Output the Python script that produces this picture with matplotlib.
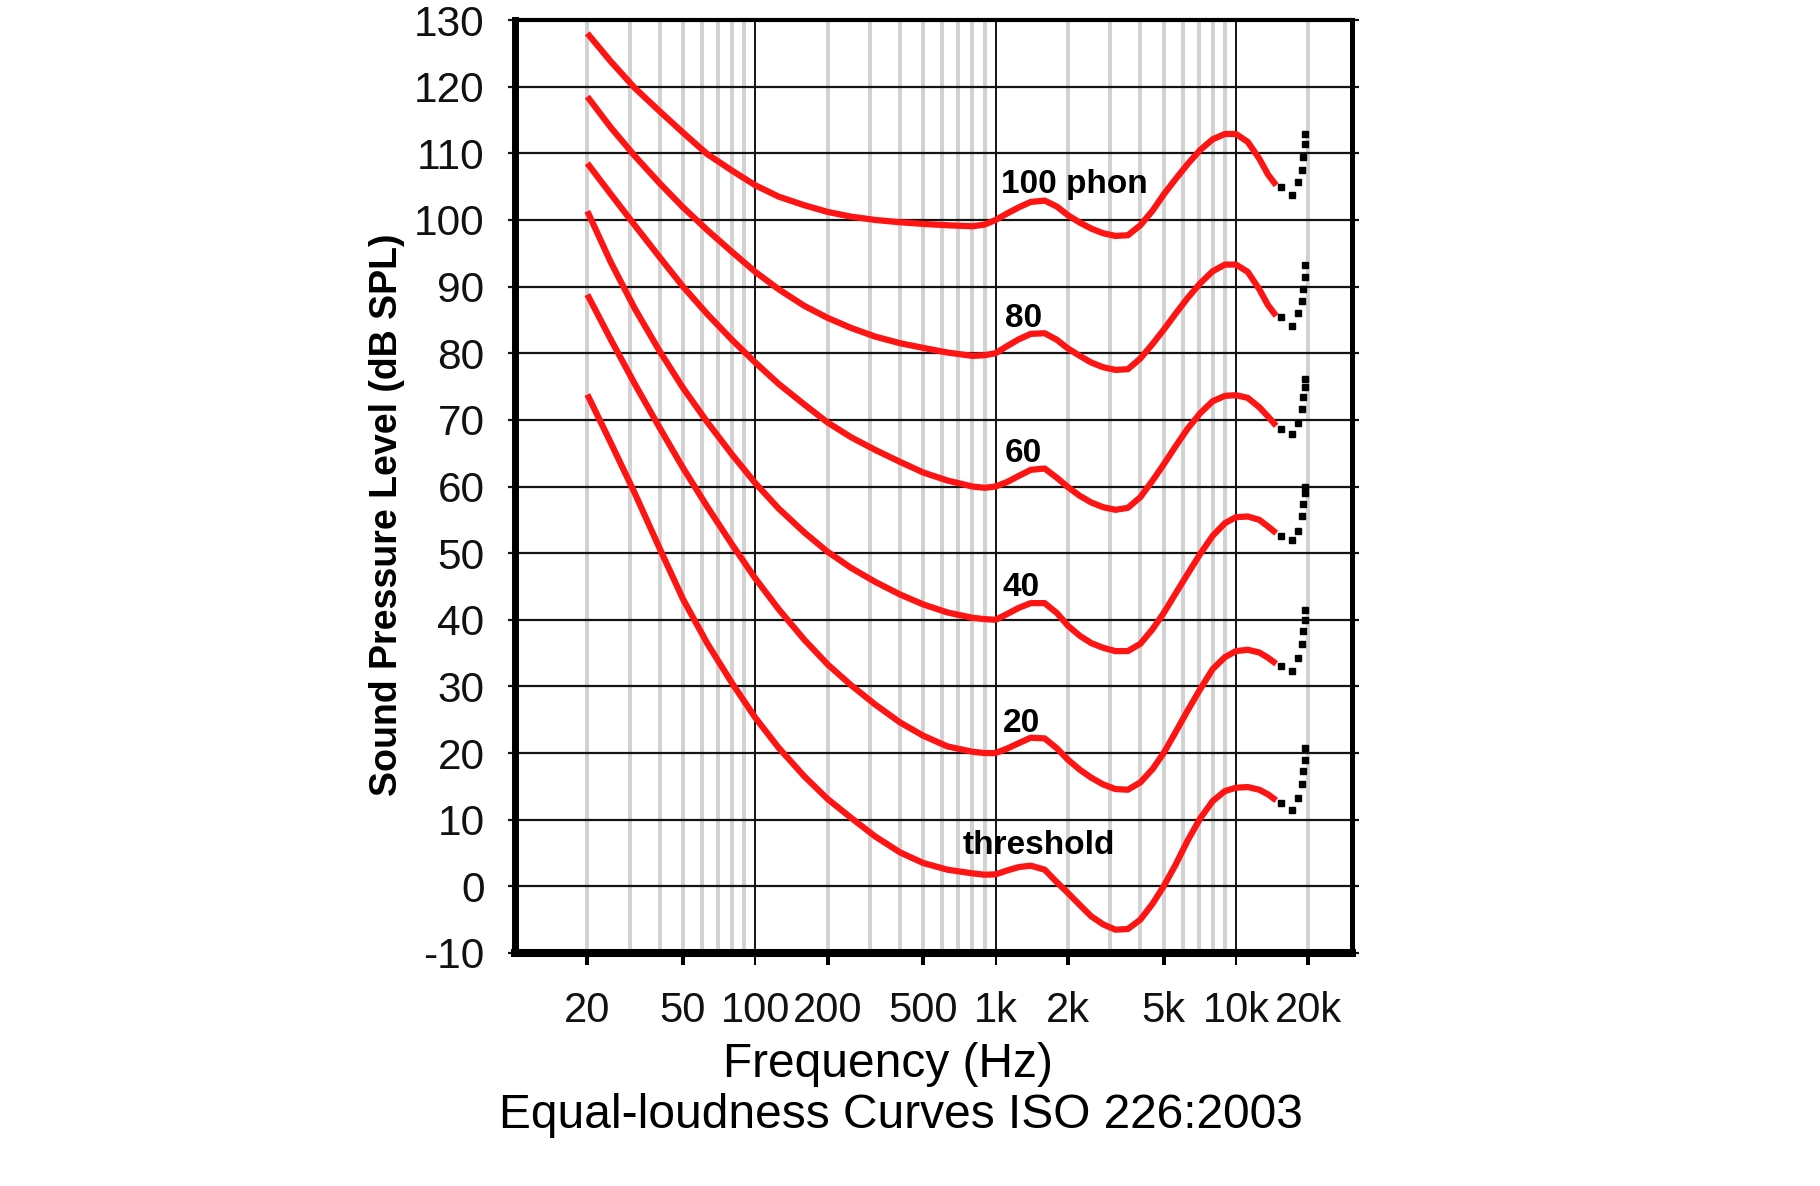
"""
Equal-loudness contours (ISO 226:2003) redrawn with matplotlib.

Writes out.png (1820 x 1186).
"""

import matplotlib
matplotlib.use("Agg")  # no display
import matplotlib.pyplot as plt
from matplotlib import font_manager
from matplotlib.ticker import NullFormatter, NullLocator

# ---------------------------------------------------------------------------
# Data
# ---------------------------------------------------------------------------

# frequencies (Hz) of the solid red part of every contour
FREQ = [20, 25, 31.5, 40, 50, 63, 80, 100, 125, 160, 200, 250, 315, 400, 500,
        630, 800, 900,
        1000, 1120, 1250, 1400, 1600, 1800, 2000, 2240, 2500, 2800, 3150, 3550,
        4000, 4500, 5000, 5600, 6300, 7100, 8000, 9000, 10000, 11200, 12500,
        13600, 14700]

PHON_100 = [128.0, 123.8, 119.8, 116.3, 113.1, 109.9, 107.4, 105.2, 103.5,
            102.2, 101.2, 100.5, 100.0, 99.65, 99.4, 99.2, 99.05, 99.3,
            100.0, 101.0, 101.9, 102.7, 102.9, 102.0, 100.7, 99.6, 98.7,
            98.0, 97.6, 97.7, 99.2, 101.4, 103.8, 106.1, 108.4, 110.5, 112.1,
            112.9, 112.9, 111.7, 109.2, 106.8, 105.2]
PHON_80 = [118.5, 113.9, 109.6, 105.5, 101.9, 98.5, 95.2, 92.2, 89.6,
           87.1, 85.3, 83.8, 82.5, 81.5, 80.8, 80.1, 79.6, 79.7,
           80.0, 81.1, 82.1, 82.9, 83.0, 82.0, 80.7, 79.6, 78.6,
           77.9, 77.5, 77.6, 79.2, 81.4, 83.5, 85.9, 88.3, 90.5, 92.3,
           93.3, 93.3, 92.2, 89.6, 87.2, 85.6]
PHON_60 = [108.5, 103.9, 99.2, 94.4, 90.0, 85.9, 82.0, 78.6, 75.4,
           72.3, 69.6, 67.4, 65.5, 63.7, 62.1, 60.9, 60.0, 59.8,
           60.0, 60.7, 61.6, 62.5, 62.7, 61.3, 59.9, 58.6, 57.6,
           56.9, 56.5, 56.8, 58.4, 60.9, 63.3, 66.0, 68.7, 71.0, 72.8,
           73.6, 73.7, 73.3, 71.9, 70.5, 69.1]
PHON_40 = [101.3, 93.7, 86.7, 80.3, 74.8, 69.7, 64.8, 60.5, 56.7,
           53.1, 50.2, 47.8, 45.7, 43.8, 42.3, 41.1, 40.3, 40.1,
           40.0, 40.9, 41.8, 42.5, 42.5, 41.0, 39.1, 37.6, 36.5,
           35.8, 35.3, 35.3, 36.4, 38.6, 41.0, 43.9, 46.9, 49.9, 52.6,
           54.5, 55.4, 55.5, 55.0, 54.0, 53.0]
PHON_20 = [88.8, 82.1, 75.4, 68.8, 62.8, 57.0, 51.3, 46.2, 41.6,
           37.0, 33.3, 30.2, 27.3, 24.6, 22.6, 21.0, 20.2, 20.0,
           20.0, 20.7, 21.5, 22.3, 22.2, 20.7, 19.0, 17.5, 16.3,
           15.3, 14.6, 14.5, 15.6, 17.6, 20.0, 23.1, 26.4, 29.6, 32.6,
           34.4, 35.3, 35.5, 35.1, 34.3, 33.4]
THRESHOLD = [73.8, 66.6, 59.0, 50.7, 43.1, 36.5, 30.5, 25.3, 20.8,
             16.5, 13.1, 10.3, 7.5, 5.1, 3.5, 2.5, 1.95, 1.75,
             1.8, 2.4, 2.9, 3.1, 2.5, 0.6, -1.0, -2.8, -4.5,
             -5.7, -6.5, -6.4, -5.0, -2.6, 0.0, 3.2, 6.9, 10.2, 12.8,
             14.3, 14.8, 14.9, 14.5, 13.8, 12.9]

# dotted (uncertain) continuation above ~15 kHz
DOT_FREQ = [15400, 17100, 18100, 18800, 19100, 19300, 19450]
DOT_100 = [104.9, 103.8, 105.7, 107.5, 109.5, 111.4, 112.9]
DOT_80 = [85.4, 84.1, 86.1, 87.8, 89.6, 91.5, 93.3]
DOT_60 = [68.6, 67.9, 69.6, 71.6, 73.4, 75.0, 76.2]
DOT_40 = [52.6, 51.9, 53.3, 55.5, 57.3, 59.0, 60.0]
DOT_20 = [33.0, 32.3, 34.3, 36.3, 38.3, 40.0, 41.5]
DOT_THR = [12.5, 11.5, 13.3, 15.3, 17.3, 19.0, 20.8]

CURVES = [PHON_100, PHON_80, PHON_60, PHON_40, PHON_20, THRESHOLD]
DOTS = [DOT_100, DOT_80, DOT_60, DOT_40, DOT_20, DOT_THR]

# curve labels: text, frequency of left edge, level of baseline
LABEL_TEXT = ["100 phon", "80", "60", "40", "20", "threshold"]
LABEL_FREQ = [1056, 1091, 1091, 1070, 1070, 728]
LABEL_LEVEL = [104.1, 84.0, 63.7, 43.5, 23.1, 4.8]

X_TICKS = [20, 50, 100, 200, 500, 1000, 2000, 5000, 10000, 20000]
X_LABELS = ["20", "50", "100", "200", "500", "1k", "2k", "5k", "10k", "20k"]
Y_TICKS = list(range(-10, 131, 10))
Y_LABELS = [str(v) for v in Y_TICKS]

DECADES = [100, 1000, 10000]
MINOR_GRID = [m * 10 ** e for e in (1, 2, 3) for m in range(2, 10)] + [20000]

# ---------------------------------------------------------------------------
# Style
# ---------------------------------------------------------------------------

W, H = 1820, 1186
RED = "#ff1414"
GREY = "#d2d2d2"
INK = "#141414"

plt.rcParams["font.family"] = ["Liberation Sans", "DejaVu Sans"]

_names = {f.name for f in font_manager.fontManager.ttflist}
if "Liberation Sans Narrow" in _names:
    XTICK_FONT, XTICK_SIZE = "Liberation Sans Narrow", 33
else:
    XTICK_FONT, XTICK_SIZE = "Liberation Sans", 30

# ---------------------------------------------------------------------------
# Figure
# ---------------------------------------------------------------------------

fig = plt.figure(figsize=(W / 100, H / 100), dpi=100, facecolor="white")
# axes box in pixels: left 515, right 1352, top 20, bottom 953
ax = fig.add_axes([515 / W, 1 - 953 / H, (1352 - 515) / W, (953 - 20) / H])

ax.set_xscale("log")
ax.set_xlim(10, 30400)
ax.set_ylim(-10, 130)

# grid: grey minor verticals, black decades, black horizontals
for f in MINOR_GRID:
    if f not in DECADES:
        ax.axvline(f, color=GREY, lw=2.9, zorder=1)
for f in DECADES:
    ax.axvline(f, color=INK, lw=1.4, zorder=1.5)
for y in Y_TICKS[1:-1]:
    ax.axhline(y, color=INK, lw=1.6, zorder=1.5)

# contours
for levels, dots in zip(CURVES, DOTS):
    ax.plot(FREQ, levels, color=RED, lw=4.5, solid_capstyle="butt",
            solid_joinstyle="round", zorder=3)
    ax.plot(DOT_FREQ, dots, linestyle="none", marker="s", ms=3.8,
            color="black", zorder=3)

for text, fx, ly in zip(LABEL_TEXT, LABEL_FREQ, LABEL_LEVEL):
    ax.text(fx, ly, text, fontsize=24, fontweight="bold", color="black",
            ha="left", va="baseline", zorder=4)

# ticks
ax.set_yticks(Y_TICKS)
ax.set_yticklabels(Y_LABELS)
ax.tick_params(axis="y", which="major", left=True, right=True, direction="out",
               length=5, width=1.6, color=INK, pad=17, labelsize=30.5,
               labelcolor="#111111")

ax.set_xticks(X_TICKS)
ax.set_xticklabels(X_LABELS, fontfamily=XTICK_FONT, fontsize=XTICK_SIZE,
                   color="#111111")
ax.xaxis.set_minor_locator(NullLocator())
ax.xaxis.set_minor_formatter(NullFormatter())
ax.tick_params(axis="x", which="major", direction="out", length=8.6,
               width=2.9, pad=19)
for tick, f in zip(ax.xaxis.get_major_ticks(), X_TICKS):
    if f in DECADES:
        tick.tick1line.set_color(INK)
        tick.tick1line.set_markeredgewidth(1.4)
    else:
        tick.tick1line.set_color(GREY)

# frame: heavy left/bottom/right, lighter top
for side, lw in (("left", 5.0), ("bottom", 5.8), ("right", 3.6), ("top", 3.0)):
    ax.spines[side].set_linewidth(lw)
    ax.spines[side].set_color("black")
    ax.spines[side].set_zorder(5)

# axis titles placed in figure pixels
fig.text(387 / W, 1 - 515 / H, "Sound Pressure Level (dB SPL)", rotation=90,
         fontsize=27, fontweight="bold", ha="center", va="center")
fig.text(888 / W, 1 - 1077 / H, "Frequency (Hz)", fontsize=34.5,
         ha="center", va="baseline")
fig.text(901 / W, 1 - 1128 / H, "Equal-loudness Curves ISO 226:2003",
         fontsize=34.5, ha="center", va="baseline")

fig.savefig("out.png", dpi=100, facecolor="white")
plt.close(fig)
